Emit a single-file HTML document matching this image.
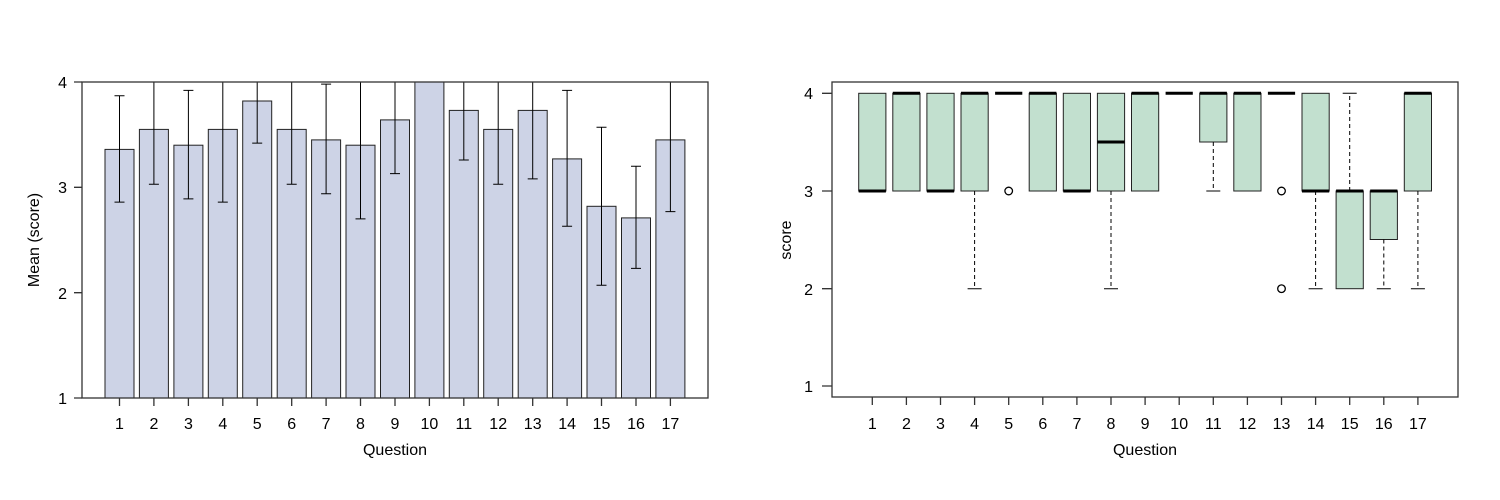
<!DOCTYPE html>
<html><head><meta charset="utf-8"><style>body{margin:0;background:#fff}svg{display:block}text{font-family:"Liberation Sans",sans-serif;font-size:16px;fill:#000}</style></head><body>
<svg width="1500" height="500" xmlns="http://www.w3.org/2000/svg">
<g stroke="#222" stroke-width="1" fill="#cdd3e6">
<rect x="105" y="149.4" width="29" height="248.6"/>
<rect x="139.4" y="129.4" width="29" height="268.6"/>
<rect x="173.9" y="145.2" width="29" height="252.8"/>
<rect x="208.3" y="129.4" width="29" height="268.6"/>
<rect x="242.7" y="101" width="29" height="297"/>
<rect x="277.2" y="129.4" width="29" height="268.6"/>
<rect x="311.6" y="139.9" width="29" height="258.1"/>
<rect x="346" y="145.2" width="29" height="252.8"/>
<rect x="380.5" y="119.9" width="29" height="278.1"/>
<rect x="414.9" y="82" width="29" height="316"/>
<rect x="449.3" y="110.4" width="29" height="287.6"/>
<rect x="483.7" y="129.4" width="29" height="268.6"/>
<rect x="518.2" y="110.4" width="29" height="287.6"/>
<rect x="552.6" y="158.9" width="29" height="239.1"/>
<rect x="587" y="206.3" width="29" height="191.7"/>
<rect x="621.5" y="217.9" width="29" height="180.1"/>
<rect x="655.9" y="139.9" width="29" height="258.1"/>
</g>
<g stroke="#000" stroke-width="1" fill="none">
<path d="M119.5 202.1V95.7M114.5 202.1h10M114.5 95.7h10"/>
<path d="M153.9 184.2V82M148.9 184.2h10"/>
<path d="M188.4 198.9V90.4M183.4 198.9h10M183.4 90.4h10"/>
<path d="M222.8 202.1V82M217.8 202.1h10"/>
<path d="M257.2 143.1V82M252.2 143.1h10"/>
<path d="M291.7 184.2V82M286.7 184.2h10"/>
<path d="M326.1 193.7V84.1M321.1 193.7h10M321.1 84.1h10"/>
<path d="M360.5 218.9V82M355.5 218.9h10"/>
<path d="M395 173.6V82M390 173.6h10"/>
<path d="M463.8 160V82M458.8 160h10"/>
<path d="M498.2 184.2V82M493.2 184.2h10"/>
<path d="M532.7 178.9V82M527.7 178.9h10"/>
<path d="M567.1 226.3V90.4M562.1 226.3h10M562.1 90.4h10"/>
<path d="M601.5 285.3V127.3M596.5 285.3h10M596.5 127.3h10"/>
<path d="M636 268.4V166.3M631 268.4h10M631 166.3h10"/>
<path d="M670.4 211.6V82M665.4 211.6h10"/>
</g>
<g stroke="#333" fill="none" stroke-width="1.3">
<rect x="82" y="82" width="626" height="316"/>
<path d="M74 82h8M74 187.3h8M74 292.7h8M74 398h8"/>
<path d="M119.5 398v8M153.9 398v8M188.4 398v8M222.8 398v8M257.2 398v8M291.7 398v8M326.1 398v8M360.5 398v8M395 398v8M429.4 398v8M463.8 398v8M498.2 398v8M532.7 398v8M567.1 398v8M601.5 398v8M636 398v8M670.4 398v8"/>
</g>
<g text-anchor="end"><text x="67" y="88">4</text><text x="67" y="193">3</text><text x="67" y="299">2</text><text x="67" y="404">1</text></g>
<g text-anchor="middle">
<text x="119.5" y="429">1</text><text x="153.9" y="429">2</text><text x="188.4" y="429">3</text><text x="222.8" y="429">4</text><text x="257.2" y="429">5</text><text x="291.7" y="429">6</text><text x="326.1" y="429">7</text><text x="360.5" y="429">8</text><text x="395" y="429">9</text><text x="429.4" y="429">10</text><text x="463.8" y="429">11</text><text x="498.2" y="429">12</text><text x="532.7" y="429">13</text><text x="567.1" y="429">14</text><text x="601.5" y="429">15</text><text x="636" y="429">16</text><text x="670.4" y="429">17</text>
<text x="395" y="455">Question</text>
<text transform="translate(39 240) rotate(-90)">Mean (score)</text>
</g>

<g stroke="#222" stroke-width="1" fill="#c2e0cf">
<rect x="858.7" y="93.3" width="27.2" height="97.7"/>
<rect x="892.8" y="93.3" width="27.2" height="97.7"/>
<rect x="926.9" y="93.3" width="27.2" height="97.7"/>
<rect x="961" y="93.3" width="27.2" height="97.7"/>
<rect x="1029.2" y="93.3" width="27.2" height="97.7"/>
<rect x="1063.3" y="93.3" width="27.2" height="97.7"/>
<rect x="1097.4" y="93.3" width="27.2" height="97.7"/>
<rect x="1131.5" y="93.3" width="27.2" height="97.7"/>
<rect x="1199.7" y="93.3" width="27.2" height="48.7"/>
<rect x="1233.8" y="93.3" width="27.2" height="97.7"/>
<rect x="1302" y="93.3" width="27.2" height="97.7"/>
<rect x="1336.1" y="191" width="27.2" height="97.7"/>
<rect x="1370.2" y="191" width="27.2" height="48.5"/>
<rect x="1404.3" y="93.3" width="27.2" height="97.7"/>
</g>
<g stroke="#000" stroke-width="3">
<path d="M858.7 191h27.2M892.8 93.3h27.2M926.9 191h27.2M961 93.3h27.2M995.1 93.3h27.2M1029.2 93.3h27.2M1063.3 191h27.2M1097.4 142h27.2M1131.5 93.3h27.2M1165.6 93.3h27.2M1199.7 93.3h27.2M1233.8 93.3h27.2M1267.9 93.3h27.2M1302 191h27.2M1336.1 191h27.2M1370.2 191h27.2M1404.3 93.3h27.2"/>
</g>
<g stroke="#000" stroke-width="1" fill="none">
<path d="M974.6 191v97.7M1111 191v97.7M1213.3 142v49M1315.6 191v97.7M1349.7 191V93.3M1383.8 239.5v49.2M1417.9 191v97.7" stroke-dasharray="4 3"/>
<path d="M967.6 288.7h14M1104 288.7h14M1206.3 191h14M1308.6 288.7h14M1342.7 93.3h14M1376.8 288.7h14M1410.9 288.7h14"/>
<circle cx="1008.7" cy="191" r="3.8" stroke-width="1.3"/>
<circle cx="1281.5" cy="191" r="3.8" stroke-width="1.3"/>
<circle cx="1281.5" cy="288.7" r="3.8" stroke-width="1.3"/>
</g>
<g stroke="#333" fill="none" stroke-width="1.3">
<rect x="832" y="82" width="626" height="315"/>
<path d="M822 93.3h10M822 191h10M822 288.7h10M822 386h10"/>
<path d="M872.3 397v8M906.4 397v8M940.5 397v8M974.6 397v8M1008.7 397v8M1042.8 397v8M1076.9 397v8M1111 397v8M1145.1 397v8M1179.2 397v8M1213.3 397v8M1247.4 397v8M1281.5 397v8M1315.6 397v8M1349.7 397v8M1383.8 397v8M1417.9 397v8"/>
</g>
<g text-anchor="end"><text x="813" y="99">4</text><text x="813" y="197">3</text><text x="813" y="295">2</text><text x="813" y="392">1</text></g>
<g text-anchor="middle">
<text x="872.3" y="429">1</text><text x="906.4" y="429">2</text><text x="940.5" y="429">3</text><text x="974.6" y="429">4</text><text x="1008.7" y="429">5</text><text x="1042.8" y="429">6</text><text x="1076.9" y="429">7</text><text x="1111" y="429">8</text><text x="1145.1" y="429">9</text><text x="1179.2" y="429">10</text><text x="1213.3" y="429">11</text><text x="1247.4" y="429">12</text><text x="1281.5" y="429">13</text><text x="1315.6" y="429">14</text><text x="1349.7" y="429">15</text><text x="1383.8" y="429">16</text><text x="1417.9" y="429">17</text>
<text x="1145" y="455">Question</text>
<text transform="translate(791 240) rotate(-90)">score</text>
</g>
</svg>
</body></html>
